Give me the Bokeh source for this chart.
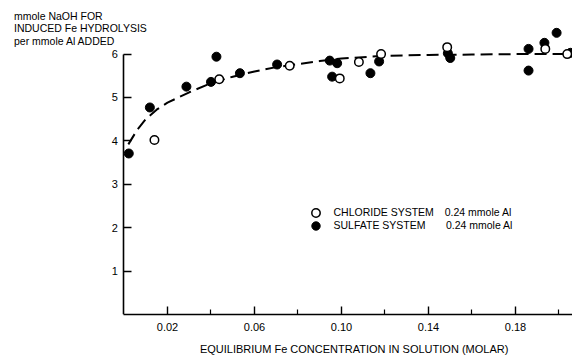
from bokeh.plotting import figure
from bokeh.models import Range1d, FixedTicker, Label, Legend, LegendItem, NumeralTickFormatter
from bokeh.embed import file_html
from bokeh.resources import INLINE

# ---- data ----
chloride_x = [0.014, 0.0438, 0.0762, 0.0992, 0.108, 0.1182, 0.1486, 0.1937, 0.2038]
chloride_y = [4.02, 5.42, 5.73, 5.44, 5.82, 6.00, 6.16, 6.12, 6.00]

sulfate_x = [0.0022, 0.0119, 0.0287, 0.040, 0.0425, 0.0533, 0.0704, 0.0946, 0.098,
             0.0957, 0.1133, 0.1173, 0.1489, 0.150, 0.186, 0.186, 0.1933, 0.1989, 0.2053]
sulfate_y = [3.71, 4.77, 5.25, 5.36, 5.94, 5.56, 5.76, 5.85, 5.79,
             5.48, 5.56, 5.83, 6.02, 5.91, 6.12, 5.62, 6.26, 6.49, 6.03]

fit_x = [0.002, 0.006, 0.010, 0.015, 0.020, 0.030, 0.040, 0.050, 0.060, 0.070,
         0.080, 0.090, 0.100, 0.120, 0.140, 0.160, 0.180, 0.206]
fit_y = [3.92, 4.25, 4.50, 4.72, 4.88, 5.12, 5.33, 5.48, 5.60, 5.70,
         5.77, 5.84, 5.90, 5.96, 5.98, 5.99, 6.00, 6.00]

x_major_ticks = [0.02, 0.06, 0.10, 0.14, 0.18]
x_minor_ticks = [0.04, 0.08, 0.12, 0.16, 0.20]
y_ticks = [1, 2, 3, 4, 5, 6]

y_title_lines = ["mmole NaOH FOR", "INDUCED Fe HYDROLYSIS", "per mmole Al ADDED"]
x_title = "EQUILIBRIUM Fe CONCENTRATION IN SOLUTION (MOLAR)"
legend_labels = ["CHLORIDE SYSTEM\u00a0\u00a0\u00a0\u20090.24 mmole Al",
                 "SULFATE SYSTEM\u00a0\u00a0\u00a0\u00a0\u00a0\u00a0\u00a00.24 mmole Al"]

FONT = "Liberation Sans"

p = figure(width=572, height=357, output_backend="svg", toolbar_location=None,
           x_range=Range1d(-0.0508, 0.20621), y_range=Range1d(0, 7.235),
           min_border_left=13, min_border_right=0, min_border_top=0, min_border_bottom=43)
p.outline_line_color = None
p.grid.visible = False
p.background_fill_color = "white"
p.border_fill_color = "white"

xa = p.xaxis[0]
xa.ticker = FixedTicker(ticks=x_major_ticks, minor_ticks=x_minor_ticks)
xa.formatter = NumeralTickFormatter(format="0.00")
xa.bounds = (0, 0.21)
# the label is centred on the frame; pad on the left so it sits under the axis as in the original
xa.axis_label = "\u00a0" * 40 + x_title
xa.axis_label_text_font = FONT
xa.axis_label_text_font_size = "11px"
xa.axis_label_text_font_style = "normal"
xa.axis_label_text_color = "black"
xa.axis_label_standoff = 9

ya = p.yaxis[0]
ya.ticker = FixedTicker(ticks=y_ticks)
ya.bounds = (0, 6)
ya.fixed_location = 0

for ax in (xa, ya):
    ax.axis_line_width = 1.6
    ax.axis_line_color = "black"
    ax.major_tick_in = 8
    ax.major_tick_out = 0
    ax.major_tick_line_width = 1.4
    ax.major_tick_line_color = "black"
    ax.major_label_text_font = FONT
    ax.major_label_text_font_size = "11px"
    ax.major_label_text_color = "black"
xa.minor_tick_in = 5
xa.minor_tick_out = 0
xa.minor_tick_line_width = 1.2
xa.minor_tick_line_color = "black"
xa.major_label_standoff = 8
ya.minor_tick_line_color = None
ya.major_label_standoff = 6

p.line(fit_x, fit_y, line_dash="12 6", line_width=2, line_color="black")
sul = p.scatter(sulfate_x, sulfate_y, size=9, fill_color="black", line_color="black")
chl = p.scatter(chloride_x, chloride_y, size=8.5, fill_color="white", line_color="black",
                line_width=1.5)

for item_label, rend, loc_y in ((legend_labels[0], chl, 91.5), (legend_labels[1], sul, 78.5)):
    lg = Legend(items=[LegendItem(label=item_label, renderers=[rend])],
                location=(291.5, loc_y), glyph_width=21, glyph_height=21, label_height=21,
                label_standoff=8, spacing=0, padding=0, margin=0,
                border_line_color=None, background_fill_alpha=0,
                label_text_font=FONT, label_text_font_size="10.5px",
                label_text_color="black")
    p.add_layout(lg)

for t, yy in zip(y_title_lines, (299.0, 286.5, 274.0)):
    p.add_layout(Label(x=0.5, y=yy, x_units="screen", y_units="screen",
                       text=t, text_font=FONT, text_font_size="10.5px", text_color="black",
                       text_baseline="middle", text_align="left"))

open("out.html", "w").write(file_html(p, INLINE))
